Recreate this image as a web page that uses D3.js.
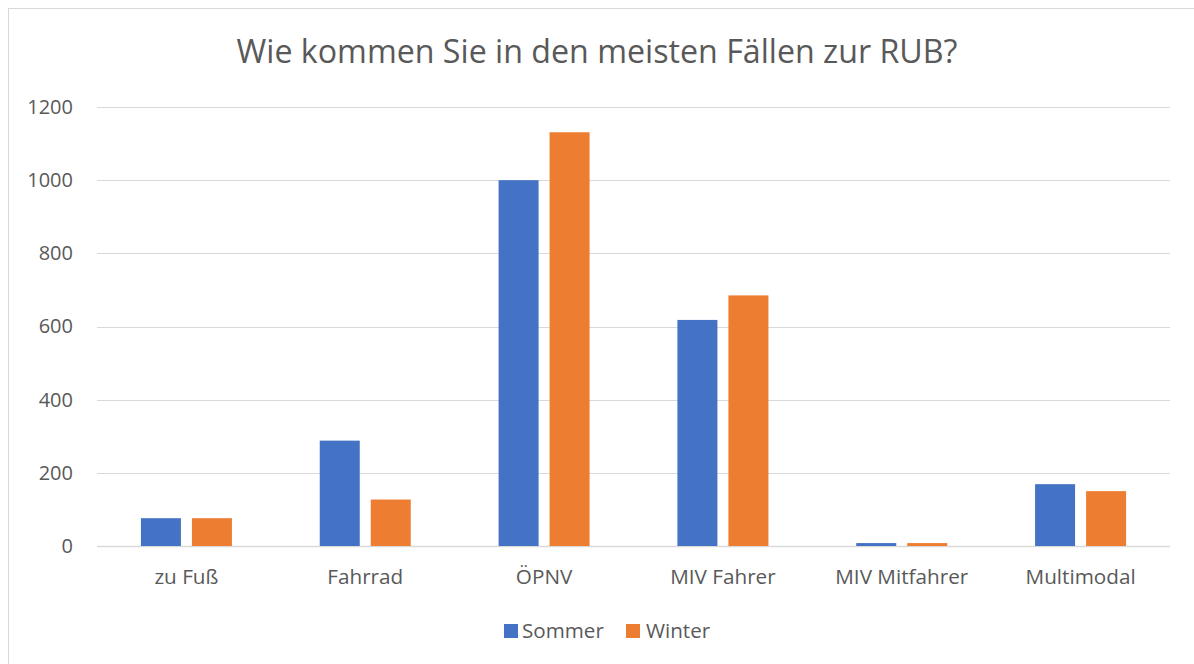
<!DOCTYPE html>
<html><head><meta charset="utf-8">
<script src="https://cdn.jsdelivr.net/npm/d3@7"></script>
<style>body{margin:0;background:#fff;}svg{display:block;}</style>
</head><body>
<script>
const categories = ["zu Fuß","Fahrrad","ÖPNV","MIV Fahrer","MIV Mitfahrer","Multimodal"];
const seriesNames = ["Sommer","Winter"];
const sommer = [76, 288, 1000, 618, 8, 169];
const winter = [76, 127, 1131, 685, 8, 150];
const yTicks = [0,200,400,600,800,1000,1200];
const colors = ["#4472C4","#ED7D31"];
const title = "Wie kommen Sie in den meisten Fällen zur RUB?";

const W=1194,H=664;
const font="'Open Sans', sans-serif";
const txt="#595959";
const svg=d3.select("body").append("svg").attr("width",W).attr("height",H);
svg.append("rect").attr("x",8.5).attr("y",8.5).attr("width",W+20).attr("height",H+20).attr("fill","#fff").attr("stroke","#d9d9d9").attr("stroke-width",1);

const m={l:97,r:1170,t:107,b:546};
const x=d3.scaleBand().domain(categories).range([m.l,m.r]);
const y=d3.scaleLinear().domain([0,1200]).range([m.b,m.t]);
const x1=d3.scaleBand().domain(seriesNames).range([0,x.bandwidth()]).paddingInner(0.2157).paddingOuter(0.861);

svg.append("g").selectAll("line").data(yTicks).join("line")
 .attr("x1",m.l).attr("x2",m.r).attr("y1",d=>Math.round(y(d))+0.5).attr("y2",d=>Math.round(y(d))+0.5)
 .attr("stroke","#d9d9d9").attr("stroke-width",d=>d===0?1.5:1.2);

const yAxis=d3.axisLeft(y).tickValues(yTicks).tickFormat(d3.format("d")).tickSize(0).tickPadding(0);
const ga=svg.append("g").attr("transform",`translate(${73},0)`).call(yAxis);
ga.select(".domain").remove();
ga.selectAll("text").attr("font-family",font).attr("font-size",20).attr("fill",txt);

const data=[sommer,winter];
const g=svg.append("g");
seriesNames.forEach((s,si)=>{
  g.append("g").selectAll("rect").data(categories).join("rect")
   .attr("x",c=>x(c)+x1(s)).attr("width",x1.bandwidth())
   .attr("y",(c,i)=>y(data[si][i])).attr("height",(c,i)=>y(0)-y(data[si][i]))
   .attr("fill",colors[si]);
});

const xAxis=d3.axisBottom(x).tickSize(0).tickPadding(0);
const gx=svg.append("g").attr("transform",`translate(0,${584})`).call(xAxis);
gx.select(".domain").remove();
gx.selectAll("text").attr("dy",0).attr("font-family",font).attr("font-size",20.7).attr("fill",txt);

svg.append("text").attr("x",597).attr("y",63).attr("text-anchor","middle")
 .attr("font-family",font).attr("font-size",32.2).attr("fill",txt).text(title);

const leg=[{x:504,tx:522},{x:626,tx:646}];
seriesNames.forEach((s,i)=>{
  svg.append("rect").attr("x",leg[i].x).attr("y",624).attr("width",14).attr("height",14).attr("fill",colors[i]);
  svg.append("text").attr("x",leg[i].tx).attr("y",638).attr("font-family",font).attr("font-size",20.6).attr("fill",txt).text(s);
});
</script>
</body></html>
